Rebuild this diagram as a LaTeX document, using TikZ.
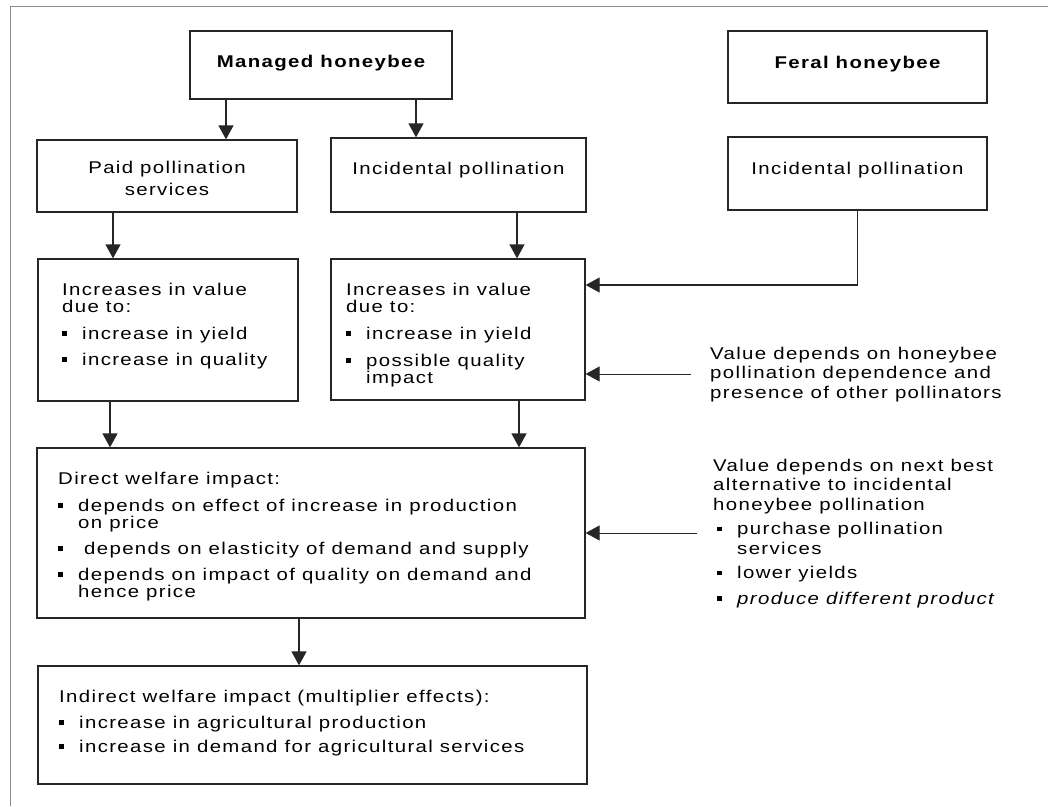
\documentclass[tikz,border=0pt]{standalone}
\usepackage{fontspec}
\setmainfont{Liberation Sans}[FakeStretch=1.2,LetterSpace=8]
\usetikzlibrary{arrows.meta}
\newcommand\bul{\makebox[20pt][l]{\raisebox{3.5pt}{\rule{4.5pt}{4.5pt}}}}
\newcommand\ind{\hspace*{20pt}}
\begin{document}
\begin{tikzpicture}[x=1pt,y=-1pt,
  box/.style={draw=black!85, line width=1.3pt, rectangle, inner sep=0pt},
  lbl/.style={inner sep=0pt, text=black, font=\fontsize{17}{17}\selectfont},
  blk/.style={lbl, align=left, anchor=north west},
  arr/.style={line width=1.3pt, draw=black!85, -{Triangle[width=15pt,length=14pt]}},
  thinarr/.style={arr, line width=0.9pt}]
\useasboundingbox (0,0) rectangle (1048,806);
\fill[white] (0,0) rectangle (1048,806);
\draw[black!45, line width=1pt] (10,806) -- (10,6) -- (1048,6);
% boxes
\node[box, minimum width=262, minimum height=68] (mh) at (321,65) {};
\node[box, minimum width=259, minimum height=72] (fh) at (857.5,67) {};
\node[box, minimum width=260, minimum height=72] (pp) at (167,176) {};
\node[box, minimum width=255, minimum height=74] (ip1) at (458.5,175) {};
\node[box, minimum width=259, minimum height=73] (ip2) at (857.5,173.5) {};
\node[box, minimum width=260, minimum height=142] (in1) at (168,330) {};
\node[box, minimum width=254, minimum height=141] (in2) at (458,329.5) {};
\node[box, minimum width=548, minimum height=170] (dw) at (311,533) {};
\node[box, minimum width=549, minimum height=118] (iw) at (312.5,725) {};
% labels
\node[lbl, anchor=base, font=\fontsize{17}{17}\selectfont\bfseries] (tmh) at (321,67) {Managed honeybee};
\node[lbl, anchor=base, font=\fontsize{17}{17}\selectfont\bfseries] (tfh) at (857.5,68) {Feral honeybee};
\node[lbl, anchor=north, align=center, font=\fontsize{17}{22}\selectfont] (tpp) at (167,160) {\rule{0pt}{13pt}Paid pollination\\services};
\node[lbl, anchor=base] (tip1) at (458.5,174) {Incidental pollination};
\node[lbl, anchor=base] (tip2) at (857.5,174) {Incidental pollination};
\node[blk] (tin1) at (62,282) {\rule{0pt}{13pt}Increases in value\\due to:\\[10pt]\bul increase in yield\\[9pt]\bul increase in quality};
\node[blk] (tin2) at (346,282) {\rule{0pt}{13pt}Increases in value\\due to:\\[10pt]\bul increase in yield\\[10pt]\bul possible quality\\\ind impact};
\node[blk] (tdw) at (58,471) {\rule{0pt}{13pt}Direct welfare impact:\\[10pt]\bul depends on effect of increase in production\\\ind on price\\[9pt]\bul\hspace{6pt}depends on elasticity of demand and supply\\[9pt]\bul depends on impact of quality on demand and\\\ind hence price};
\node[blk] (tiw) at (59,689) {\rule{0pt}{13pt}Indirect welfare impact (multiplier effects):\\[9pt]\bul increase in agricultural production\\[7pt]\bul increase in demand for agricultural services};
\node[blk, font=\fontsize{17}{19.5}\selectfont] (r1) at (710,346) {\rule{0pt}{13pt}Value depends on honeybee\\pollination dependence and\\presence of other pollinators};
\node[blk, font=\fontsize{17}{19.5}\selectfont] (r2) at (713,458) {\rule{0pt}{13pt}Value depends on next best\\alternative to incidental\\honeybee pollination\\[5pt]\hspace*{4pt}\bul purchase pollination\\\hspace*{24pt}services\\[5pt]\hspace*{4pt}\bul lower yields\\[6pt]\hspace*{4pt}\bul \textit{produce different product}};
% arrow x positions
\coordinate (xa) at (226,0);
\coordinate (xb) at (416,0);
\coordinate (xc) at (113,0);
\coordinate (xd) at (517,0);
\coordinate (xe) at (110,0);
\coordinate (xf) at (519,0);
\coordinate (xg) at (299,0);
\coordinate (yh) at (0,285);
% connectors
\draw[arr] (mh.south -| xa) -- (pp.north -| xa);
\draw[arr] (mh.south -| xb) -- (ip1.north -| xb);
\draw[arr] (pp.south -| xc) -- (in1.north -| xc);
\draw[arr] (ip1.south -| xd) -- (in2.north -| xd);
\draw[arr] (ip2.south) |- (in2.east |- yh);
\draw[arr] (in1.south -| xe) -- (dw.north -| xe);
\draw[arr] (in2.south -| xf) -- (dw.north -| xf);
\draw[arr] (dw.south -| xg) -- (iw.north -| xg);
\draw[thinarr] ([xshift=-19pt]r1.west) -- (in2.east |- r1.west);
\draw[thinarr] ([xshift=-16pt]r2.west) -- (dw.east |- r2.west);
\end{tikzpicture}
\end{document}
